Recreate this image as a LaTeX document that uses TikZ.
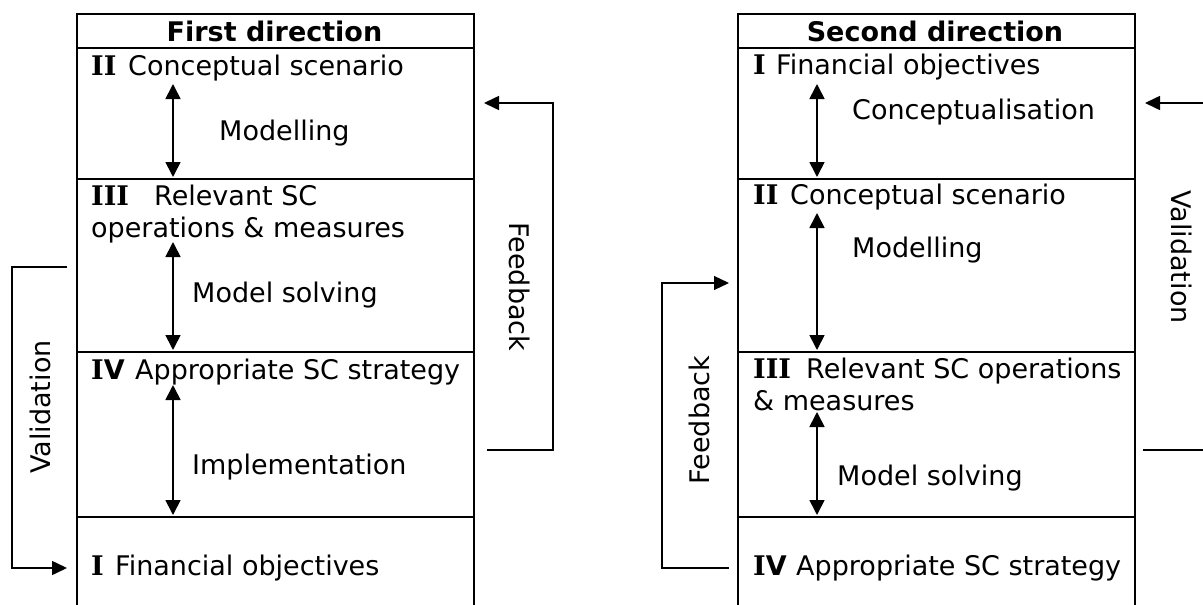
\documentclass[tikz,border=0pt]{standalone}
\usepackage{fontspec}
\setmainfont{DejaVu Sans}
\newfontfamily\slabfont{DejaVu Serif}
\usetikzlibrary{arrows.meta}
\newcommand\romn[2]{\makebox[#1pt][l]{\textbf{#2}}}
\newcommand\sI{{\slabfont\bfseries I}}
\begin{document}
\begin{tikzpicture}[x=1pt,y=-1pt,
 txt/.style={anchor=base west,inner sep=0pt,font=\fontsize{27}{32}\selectfont},
 ttl/.style={anchor=base,inner sep=0pt,font=\fontsize{27}{32}\selectfont\bfseries},
 rot/.style={inner sep=0pt,font=\fontsize{27}{32}\selectfont},
 cell/.style={draw,line width=1.6pt,inner sep=0pt,anchor=north west,minimum width=397pt},
 dbl/.style={line width=1.7pt,{Triangle[length=15pt,width=15pt]}-{Triangle[length=15pt,width=15pt]}},
 arr/.style={line width=1.6pt,-{Triangle[length=15pt,width=14pt]}},
 thinarr/.style={line width=1.1pt,-{Triangle[length=15pt,width=14pt]}}]
\useasboundingbox (0,0) rectangle (1203,605);
\clip (0,0) rectangle (1203,605);
% ---------- left box ----------
\node[cell,minimum height=34pt]  (L0) at (76,13)  {};
\node[cell,minimum height=131pt] (L1) at (76,47)  {};
\node[cell,minimum height=173pt] (L2) at (76,178) {};
\node[cell,minimum height=165pt] (L3) at (76,351) {};
\node[cell,minimum height=120pt] (L4) at (76,516) {};
\node[ttl] (Lt) at (274.5,41) {First direction};
\node[txt] (L1a) at (91,75)  {\romn{37}{\sI\sI}Conceptual scenario};
\node[txt] (L1b) at (219,140) {Modelling};
\node[txt] (L2a) at (91,205) {\romn{63}{\sI\sI\sI}Relevant SC};
\node[txt] (L2b) at (91,237) {operations \& measures};
\node[txt] (L2c) at (192,302) {Model solving};
\node[txt] (L3a) at (91,379) {\romn{44}{\sI V}Appropriate SC strategy};
\node[txt] (L3b) at (192,474) {Implementation};
\node[txt] (L4a) at (91,575) {\romn{24}{\sI}Financial objectives};
\coordinate (la1) at (173,84);  \coordinate (lb1) at (173,177);
\coordinate (la2) at (173,242); \coordinate (lb2) at (173,350);
\coordinate (la3) at (173,385); \coordinate (lb3) at (173,515);
\draw[dbl] (la1) -- (lb1);
\draw[dbl] (la2) -- (lb2);
\draw[dbl] (la3) -- (lb3);
% validation (left)
\coordinate (lv1) at (67,267); \coordinate (lv2) at (67,568);
\draw[arr] (lv1) -- (12,267) -- (12,568) -- (lv2);
\node[rot,rotate=90] (lval) at (40,407) {Validation};
% feedback (left)
\coordinate (lf1) at (487,450); \coordinate (lf2) at (484,103);
\draw[arr] (lf1) -- (553,450) -- (553,103) -- (lf2);
\node[rot,rotate=-90] (lfb) at (520,287) {Feedback};
% ---------- right box ----------
\node[cell,minimum height=34pt]  (R0) at (737,13)  {};
\node[cell,minimum height=131pt] (R1) at (737,47)  {};
\node[cell,minimum height=173pt] (R2) at (737,178) {};
\node[cell,minimum height=165pt] (R3) at (737,351) {};
\node[cell,minimum height=120pt] (R4) at (737,516) {};
\node[ttl] (Rt) at (935,41) {Second direction};
\node[txt] (R1a) at (753,74)  {\romn{23}{\sI}Financial objectives};
\node[txt] (R1b) at (852,119) {Conceptualisation};
\node[txt] (R2a) at (753,204) {\romn{37}{\sI\sI}Conceptual scenario};
\node[txt] (R2b) at (852,257) {Modelling};
\node[txt] (R3a) at (753,378) {\romn{53}{\sI\sI\sI}Relevant SC operations};
\node[txt] (R3b) at (753,410) {\& measures};
\node[txt] (R3c) at (837,485) {Model solving};
\node[txt] (R4a) at (753,575) {\romn{43}{\sI V}Appropriate SC strategy};
\coordinate (ra1) at (817,84);  \coordinate (rb1) at (817,177);
\coordinate (ra2) at (817,213); \coordinate (rb2) at (817,350);
\coordinate (ra3) at (817,412); \coordinate (rb3) at (817,515);
\draw[dbl] (ra1) -- (rb1);
\draw[dbl] (ra2) -- (rb2);
\draw[dbl] (ra3) -- (rb3);
% feedback (right)
\coordinate (rf1) at (729,568); \coordinate (rf2) at (729,283);
\draw[thinarr] (rf1) -- (662,568) -- (662,283) -- (rf2);
\node[rot,rotate=90] (rfb) at (699,420) {Feedback};
% validation (right)
\coordinate (rv1) at (1143,450); \coordinate (rv2) at (1145,103);
\draw[arr] (rv1) -- (1240,450) -- (1240,103) -- (rv2);
\node[rot,rotate=-90] (rval) at (1182,257) {Validation};
\end{tikzpicture}
\end{document}
